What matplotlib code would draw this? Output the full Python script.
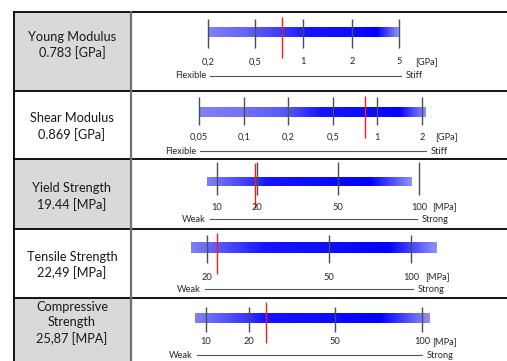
import numpy as np
import matplotlib
matplotlib.use("Agg")
import matplotlib.pyplot as plt
from matplotlib.patches import Rectangle
from matplotlib.colors import LinearSegmentedColormap

plt.rcParams['font.family'] = ['Lato', 'DejaVu Sans']

# data
properties = ["Young Modulus", "Shear Modulus", "Yield Strength", "Tensile Strength", "Compressive\nStrength"]
value_labels = ["0.783 [GPa]", "0.869 [GPa]", "19.44 [MPa]", "22,49 [MPa]", "25,87 [MPA]"]
values = [0.783, 0.869, 19.44, 22.49, 25.87]
units = ["[GPa]", "[GPa]", "[MPa]", "[MPa]", "[MPa]"]
scale_ticks = [[0.2, 0.5, 1, 2, 5],
               [0.05, 0.1, 0.2, 0.5, 1, 2],
               [10, 20, 50, 100],
               [20, 50, 100],
               [10, 20, 50, 100]]
tick_labels = [["0,2", "0,5", "1", "2", "5"],
               ["0,05", "0,1", "0,2", "0,5", "1", "2"],
               ["10", "20", "50", "100"],
               ["20", "50", "100"],
               ["10", "20", "50", "100"]]
bar_low = [0.2, 0.05, 7.5, 16, 7.5]
bar_high = [5, 2.09, 96, 116, 105]
low_words = ["Flexible", "Flexible", "Weak", "Weak", "Weak"]
high_words = ["Stiff", "Stiff", "Strong", "Strong", "Strong"]

# layout (pixels)
W, H = 507, 361
row_edges = [12, 91, 159, 229, 298, 361]
tick_px = [[208, 255, 303, 352, 399],
           [199, 244, 288, 333, 377, 422],
           [217, 257, 338, 419],
           [207, 329, 411],
           [206, 249, 335, 422]]
red_span = [(17, 58), (96, 138), (163, 208), (233, 274), (302, 343)]
tick_span = [(19, 48), (97, 125), (162, 195), (235, 263), (307, 332)]
bar_span = [(27, 37), (107, 117), (177, 186), (242, 253), (313, 323)]
label_y = [62, 137, 207, 277, 342]
guide_y = [76, 151, 219, 289, 355]
guide_x = [(210, 401), (200, 426), (210, 417), (205, 413), (197, 422)]
unit_dx = [16, 13, 13, 14, 10]
text_y = [45, 126.5, 196.5, 265, 323]
shaded = [True, False, True, False, True]

small = dict(fontsize=6.7, color='#262626')

bar_cmap = LinearSegmentedColormap.from_list(
    "bar", [(0.0, (0.50, 0.50, 0.96)), (0.18, (0.08, 0.08, 1.0)),
            (0.70, (0.0, 0.0, 1.0)), (1.0, (0.58, 0.58, 0.96))])


def piecewise(xp, fp):
    xp = np.asarray(xp, float)
    fp = np.asarray(fp, float)
    s0 = (fp[1] - fp[0]) / (xp[1] - xp[0])
    s1 = (fp[-1] - fp[-2]) / (xp[-1] - xp[-2])

    def f(x):
        x = np.asarray(x, float)
        y = np.interp(x, xp, fp)
        y = np.where(x < xp[0], fp[0] + (x - xp[0]) * s0, y)
        y = np.where(x > xp[-1], fp[-1] + (x - xp[-1]) * s1, y)
        return y
    return f


fig = plt.figure(figsize=(W / 100, H / 100), dpi=100)
base = fig.add_axes([0, 0, 1, 1])
base.set_xlim(0, W)
base.set_ylim(H, 0)
base.axis('off')

# table cells and borders
for i in range(len(properties)):
    top, bot = row_edges[i], row_edges[i + 1]
    if shaded[i]:
        base.add_patch(Rectangle((14, top), 116, bot - top, facecolor='#d9d9d9', edgecolor='none'))
    base.text(72, text_y[i], properties[i] + "\n" + value_labels[i], ha='center', va='center',
              fontsize=9.2, color='#1a1a1a', linespacing=1.3)
    # guide line with words
    gx0, gx1 = guide_x[i]
    base.plot([gx0, gx1], [guide_y[i], guide_y[i]], color='#555555', lw=0.8)
    base.text(gx0 - 4, guide_y[i], low_words[i], ha='right', va='center', **small)
    base.text(gx1 + 5, guide_y[i], high_words[i], ha='left', va='center', **small)

for y in row_edges[:-1]:
    base.plot([14, W], [y, y], color='black', lw=1.3)
base.plot([14, 14], [row_edges[0], H], color='black', lw=1.3)
base.plot([130.5, 130.5], [row_edges[0], H], color='#707070', lw=1.6)

# scales
for i in range(len(properties)):
    top, bot = row_edges[i], row_edges[i + 1]
    ax = fig.add_axes([130 / W, 1 - bot / H, (W - 130) / W, (bot - top) / H])
    fwd = piecewise(scale_ticks[i], tick_px[i])
    inv = piecewise(tick_px[i], scale_ticks[i])
    ax.set_xscale('function', functions=(fwd, inv))

    b0, b1 = bar_span[i]
    ax.imshow(np.linspace(0, 1, 256).reshape(1, -1), cmap=bar_cmap, aspect='auto',
              extent=(bar_low[i], bar_high[i], b1, b0), interpolation='bilinear', zorder=1)
    ax.vlines(scale_ticks[i], tick_span[i][0], tick_span[i][1], color='#4d4d4d', lw=1.0, zorder=2)
    ax.vlines(values[i], red_span[i][0], red_span[i][1], color='#ff1a1a', lw=1.0, zorder=3)
    for t, lbl in zip(scale_ticks[i], tick_labels[i]):
        ax.text(t, label_y[i], lbl, ha='center', va='center', **small)
    ax.annotate(units[i], xy=(scale_ticks[i][-1], label_y[i]), xytext=(unit_dx[i], 0),
                textcoords='offset pixels', ha='left', va='center', **small)

    ax.set_xlim(float(inv(130)), float(inv(W)))
    ax.set_ylim(bot, top)
    ax.axis('off')

fig.savefig("out.png", dpi=100)
